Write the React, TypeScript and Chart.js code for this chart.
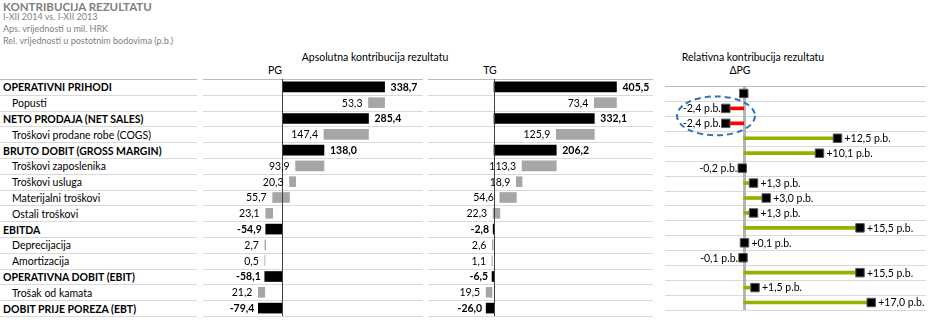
import React, { useEffect, useRef } from 'react';
import { Chart, registerables } from 'chart.js';
Chart.register(...registerables);

const categories = [
  'OPERATIVNI PRIHODI',
  'Popusti',
  'NETO PRODAJA (NET SALES)',
  'Troškovi prodane robe (COGS)',
  'BRUTO DOBIT (GROSS MARGIN)',
  'Troškovi zaposlenika',
  'Troškovi usluga',
  'Materijalni troškovi',
  'Ostali troškovi',
  'EBITDA',
  'Deprecijacija',
  'Amortizacija',
  'OPERATIVNA DOBIT (EBIT)',
  'Trošak od kamata',
  'DOBIT PRIJE POREZA (EBT)',
];
const isTotal = [true, false, true, false, true, false, false, false, false, true, false, false, true, false, true];
const pgValues = [338.7, 53.3, 285.4, 147.4, 138.0, 93.9, 20.3, 55.7, 23.1, -54.9, 2.7, 0.5, -58.1, 21.2, -79.4];
const tgValues = [405.5, 73.4, 332.1, 125.9, 206.2, 113.3, 18.9, 54.6, 22.3, -2.8, 2.6, 1.1, -6.5, 19.5, -26.0];
const deltaPb = [0, -2.4, -2.4, 12.5, 10.1, -0.2, 1.3, 3.0, 1.3, 15.5, 0.1, -0.1, 15.5, 1.5, 17.0];

const titleText = 'KONTRIBUCIJA REZULTATU';
const subtitleLines = ['I-XII 2014 vs. I-XII 2013', 'Aps. vrijednosti u mil. HRK', 'Rel. vrijednosti u postotnim bodovima (p.b.)'];
const absHeader = 'Apsolutna kontribucija rezultatu';
const relHeader = 'Relativna kontribucija rezultatu';
const pgHeader = 'PG';
const tgHeader = 'TG';
const deltaHeader = 'ΔPG';
const highlightRows = [1, 2];

const FONT = 'Lato, "Open Sans", sans-serif';
const ROW_TOP = 79;
const ROW_H = 15.8;
const N = categories.length;
const CANVAS_H = Math.round(N * ROW_H) + 1;

const fmt = (v: number) => v.toFixed(1).replace('.', ',');

function waterfall(vals: number[]) {
  let run = 0;
  return vals.map((v, i) => {
    if (isTotal[i]) {
      run = v;
      return [0, v];
    }
    const s = [run - v, run];
    run -= v;
    return s;
  });
}

function drawRowLines(chart: any) {
  const { ctx, chartArea } = chart;
  const { left, right, top, bottom } = chartArea;
  const h = (bottom - top) / N;
  ctx.save();
  ctx.lineWidth = 1;
  for (let i = 0; i <= N; i++) {
    const yy = Math.round(top + i * h) + 0.5;
    ctx.strokeStyle = i === 0 ? '#bcbcbc' : '#d9d9d9';
    ctx.beginPath();
    ctx.moveTo(left, yy);
    ctx.lineTo(right, yy);
    ctx.stroke();
  }
  ctx.restore();
}

function makeAbsPlugin(values: number[], ranges: number[][]) {
  return {
    id: 'absDecor',
    beforeDatasetsDraw(chart: any) {
      drawRowLines(chart);
    },
    afterDatasetsDraw(chart: any) {
      const { ctx, chartArea, scales } = chart;
      const xs = scales.x;
      const ys = scales.y;
      const x0 = Math.round(xs.getPixelForValue(0)) + 0.5;
      ctx.save();
      ctx.strokeStyle = '#404040';
      ctx.lineWidth = 1;
      ctx.beginPath();
      ctx.moveTo(x0, chartArea.top);
      ctx.lineTo(x0, chartArea.bottom);
      ctx.stroke();
      ctx.textBaseline = 'middle';
      ctx.fillStyle = '#000';
      values.forEach((v, i) => {
        const yy = ys.getPixelForValue(i) + 0.5;
        const [s, e] = ranges[i];
        if (isTotal[i]) {
          ctx.font = `bold 10.5px ${FONT}`;
          if (v >= 0) {
            ctx.textAlign = 'left';
            ctx.fillText(fmt(v), xs.getPixelForValue(e) + 6, yy);
          } else {
            ctx.textAlign = 'right';
            ctx.fillText(fmt(v), xs.getPixelForValue(e) - 4, yy);
          }
        } else {
          ctx.font = `10.5px ${FONT}`;
          ctx.textAlign = 'right';
          ctx.fillText(fmt(v), xs.getPixelForValue(Math.min(s, e)) - 6, yy);
        }
      });
      ctx.restore();
    },
  };
}

const relPlugin = {
  id: 'relDecor',
  beforeDatasetsDraw(chart: any) {
    drawRowLines(chart);
    const { ctx, chartArea, scales } = chart;
    const x0 = Math.round(scales.x.getPixelForValue(0)) + 0.5;
    ctx.save();
    ctx.strokeStyle = '#b4b4b4';
    ctx.lineWidth = 3;
    ctx.beginPath();
    ctx.moveTo(x0, chartArea.top);
    ctx.lineTo(x0, chartArea.bottom);
    ctx.stroke();
    ctx.restore();
  },
  afterDatasetsDraw(chart: any) {
    const { ctx, scales } = chart;
    const xs = scales.x;
    const ys = scales.y;
    ctx.save();
    ctx.textBaseline = 'middle';
    ctx.fillStyle = '#000';
    ctx.font = `10.5px ${FONT}`;
    deltaPb.forEach((d, i) => {
      if (d === 0) return;
      const px = xs.getPixelForValue(d);
      const yy = ys.getPixelForValue(i) + 0.5;
      const txt = (d > 0 ? '+' : '') + fmt(d) + ' p.b.';
      if (d > 0) {
        ctx.textAlign = 'left';
        ctx.fillText(txt, px + 7, yy);
      } else {
        ctx.textAlign = 'right';
        ctx.fillText(txt, px - 5, yy);
      }
    });
    // highlight ellipse around the negative rows
    const y1 = ys.getPixelForValue(highlightRows[0]);
    const y2 = ys.getPixelForValue(highlightRows[1]);
    const cy = (y1 + y2) / 2;
    const cx = xs.getPixelForValue(-3.7);
    const rx = xs.getPixelForValue(1.5) - cx;
    const ry = (y2 - y1) / 2 + 12;
    ctx.strokeStyle = '#2e75b6';
    ctx.lineWidth = 2;
    ctx.setLineDash([6, 4]);
    ctx.beginPath();
    ctx.ellipse(cx, cy, rx, ry, 0, 0, Math.PI * 2);
    ctx.stroke();
    ctx.restore();
  },
};

function AbsPanel({ values, left, width, min, max }: { values: number[]; left: number; width: number; min: number; max: number }) {
  const ref = useRef<HTMLCanvasElement>(null);
  useEffect(() => {
    const ranges = waterfall(values);
    const chart = new Chart(ref.current as HTMLCanvasElement, {
      type: 'bar',
      data: {
        labels: categories,
        datasets: [
          {
            data: ranges as any,
            backgroundColor: values.map((_, i) => (isTotal[i] ? '#000000' : '#a6a6a6')),
            barThickness: 10,
          },
        ],
      },
      options: {
        indexAxis: 'y',
        animation: false,
        responsive: false,
        layout: { padding: { left: 0, right: 0, top: 0, bottom: 1 } },
        plugins: { legend: { display: false }, tooltip: { enabled: false } },
        scales: {
          x: { type: 'linear', min, max, display: false },
          y: { type: 'category', display: false, offset: true },
        },
      },
      plugins: [makeAbsPlugin(values, ranges)],
    });
    return () => chart.destroy();
  }, []);
  return (
    <canvas
      ref={ref}
      width={width}
      height={CANVAS_H}
      style={{ position: 'absolute', left, top: ROW_TOP, width, height: CANVAS_H }}
    />
  );
}

function RelPanel({ left, width, min, max }: { left: number; width: number; min: number; max: number }) {
  const ref = useRef<HTMLCanvasElement>(null);
  useEffect(() => {
    const chart = new Chart(ref.current as HTMLCanvasElement, {
      type: 'bar',
      data: {
        labels: categories,
        datasets: [
          {
            type: 'line',
            data: deltaPb.map((d, i) => ({ x: d, y: categories[i] })) as any,
            showLine: false,
            pointStyle: 'rect',
            pointRadius: 6,
            pointBackgroundColor: '#000',
            pointBorderColor: '#5a5a5a',
            pointBorderWidth: 1,
            clip: false,
          } as any,
          {
            type: 'bar',
            data: deltaPb.map((d) => [0, d]) as any,
            backgroundColor: deltaPb.map((d) => (d < 0 ? '#ff0000' : '#8fb400')),
            barThickness: 3,
          },
        ],
      },
      options: {
        indexAxis: 'y',
        animation: false,
        responsive: false,
        layout: { padding: { left: 0, right: 0, top: 0, bottom: 1 } },
        plugins: { legend: { display: false }, tooltip: { enabled: false } },
        scales: {
          x: { type: 'linear', min, max, display: false },
          y: { type: 'category', display: false, offset: true },
        },
      },
      plugins: [relPlugin],
    });
    return () => chart.destroy();
  }, []);
  return (
    <canvas
      ref={ref}
      width={width}
      height={CANVAS_H}
      style={{ position: 'absolute', left, top: ROW_TOP, width, height: CANVAS_H }}
    />
  );
}

function Txt({ x, y, text, size, bold, color, align }: { x: number; y: number; text: string; size: number; bold?: boolean; color?: string; align?: 'left' | 'center' }) {
  const style: React.CSSProperties = {
    position: 'absolute',
    top: y - 8,
    height: 16,
    lineHeight: '16px',
    fontSize: size,
    fontWeight: bold ? 700 : 400,
    color: color || '#000',
    whiteSpace: 'nowrap',
    fontFamily: FONT,
  };
  if (align === 'center') {
    style.left = x - 200;
    style.width = 400;
    style.textAlign = 'center';
  } else {
    style.left = x;
  }
  return <div style={style}>{text}</div>;
}

export default function App() {
  const rowLines = [];
  for (let i = 0; i <= N; i++) {
    rowLines.push(
      <div
        key={'l' + i}
        style={{
          position: 'absolute',
          left: 0,
          width: 197,
          top: Math.round(ROW_TOP + i * ROW_H),
          height: 1,
          background: i === 0 ? '#bcbcbc' : '#d9d9d9',
        }}
      />
    );
  }
  return (
    <div style={{ position: 'absolute', left: 0, top: 0, width: 942, height: 322, overflow: 'hidden', background: '#fff', fontFamily: FONT }}>
      <Txt x={3} y={7} text={titleText} size={11.5} bold color="#7f7f7f" />
      {subtitleLines.map((s, i) => (
        <Txt key={s} x={3} y={17 + i * 12} text={s} size={9} color="#7f7f7f" />
      ))}
      <Txt x={375} y={57} text={absHeader} size={10.5} align="center" />
      <Txt x={275} y={70} text={pgHeader} size={10.5} align="center" />
      <Txt x={490} y={70} text={tgHeader} size={10.5} align="center" />
      <Txt x={753} y={57} text={relHeader} size={10.5} align="center" />
      <Txt x={740} y={70} text={deltaHeader} size={10.5} align="center" />
      {rowLines}
      {categories.map((c, i) => (
        <Txt
          key={c}
          x={isTotal[i] ? 3 : 12}
          y={ROW_TOP + (i + 0.5) * ROW_H + 0.5}
          text={c}
          size={10.5}
          bold={isTotal[i]}
        />
      ))}
      <AbsPanel values={pgValues} left={203} width={220} min={-262.6} max={465.9} />
      <AbsPanel values={tgValues} left={428} width={225} min={-218.5} max={526.5} />
      <RelPanel left={658} width={275} min={-10.5} max={24.3} />
    </div>
  );
}
